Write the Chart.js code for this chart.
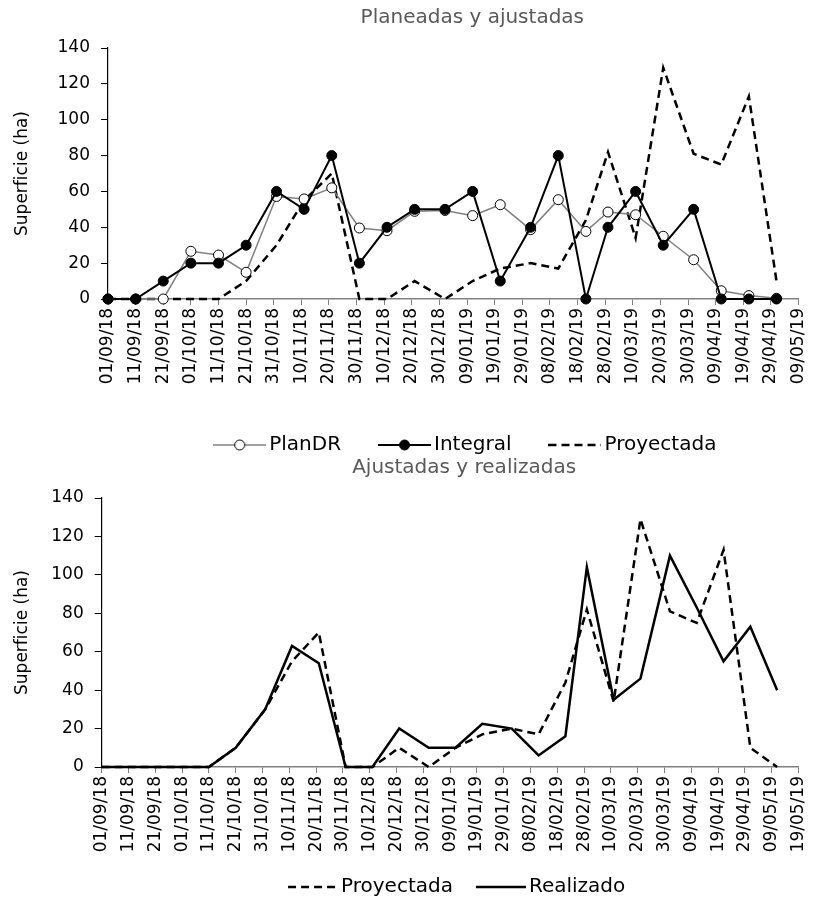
<!DOCTYPE html>
<html lang="es">
<head>
<meta charset="UTF-8">
<title>Superficie planeada, ajustada y realizada</title>
<script src="https://cdn.jsdelivr.net/npm/chart.js"></script>
<style>
    html, body { margin: 0; padding: 0; background: #fff; overflow: hidden; }
    .panel { position: absolute; left: 0; }
</style>
</head>
<body>
<div class="panel" style="top:0"><canvas id="arriba" width="822" height="465"></canvas></div>
<div class="panel" style="top:450px"><canvas id="abajo" width="822" height="457"></canvas></div>

<script>
// fechas de cada decena (1, 11 y 21 de cada mes)
const fechas = ['2018-09-01', '2018-09-11', '2018-09-21', '2018-10-01', '2018-10-11', '2018-10-21',
    '2018-11-01', '2018-11-11', '2018-11-21', '2018-12-01', '2018-12-11', '2018-12-21',
    '2019-01-01', '2019-01-11', '2019-01-21', '2019-02-01', '2019-02-11', '2019-02-21',
    '2019-03-01', '2019-03-11', '2019-03-21', '2019-04-01', '2019-04-11', '2019-04-21',
    '2019-05-01', '2019-05-11'];

// Planeadas y ajustadas (ha)
const planDR = [0, 0, 0, 26.6, 24.5, 14.9, 57.2, 55.8, 62, 39.6, 38.1, 48.9, 49.4,
    46.5, 52.6, 38.7, 55.4, 37.7, 48.5, 47, 35, 21.9, 4.6, 1.9, 0.4];
const integral = [0, 0, 10, 20, 20, 30, 60, 50, 80, 20, 40, 50, 50,
    60, 10, 40, 80, 0, 40, 60, 30, 50, 0, 0, 0];
const proyectada = [0, 0, 0, 0, 0, 10, 30, 55, 70, 0, 0, 10, 0,
    10, 17, 20, 17, 44, 82, 34, 129, 81, 75, 113, 10, 0];

// Ajustadas y realizadas (ha)
const realizado = [0, 0, 0, 0, 0, 10, 30, 63, 54, 0, 0, 20, 10,
    10, 22.5, 20, 6, 16, 104, 35, 46, 110, 83, 55, 73, 40];

// ejes: dias desde el 01/09/18, una marca cada 10 dias
const ejeFinArriba = 250;
const ejeFinAbajo = 260;
const pasoDias = 10;
const yMax = 140;
const yPaso = 20;

const origen = Date.UTC(2018, 8, 1);
const DIA = 86400000;

function diaDe(f) {
    const p = f.split('-');
    return Math.round((Date.UTC(+p[0], +p[1] - 1, +p[2]) - origen) / DIA);
}
function etiqueta(v) {
    const d = new Date(origen + v * DIA);
    const dd = String(d.getUTCDate()).padStart(2, '0');
    const mm = String(d.getUTCMonth() + 1).padStart(2, '0');
    const yy = String(d.getUTCFullYear()).slice(2);
    return dd + '/' + mm + '/' + yy;
}
function serie(valores) {
    return valores.map((v, i) => ({ x: diaDe(fechas[i]), y: v }));
}

// muestras de la leyenda: la linea va pegada al lado derecho de la imagen
function muestra(tipo, largo, ancho) {
    const c = document.createElement('canvas');
    c.width = ancho; c.height = 14;
    const g = c.getContext('2d');
    const x0 = ancho - largo;
    g.beginPath();
    if (tipo === 'plan') { g.strokeStyle = '#808080'; g.lineWidth = 1.5; }
    else if (tipo === 'discontinua') { g.strokeStyle = '#000'; g.lineWidth = 2.5; g.setLineDash([8, 5]); }
    else { g.strokeStyle = '#000'; g.lineWidth = tipo === 'integral' ? 2 : 2.5; }
    g.moveTo(x0, 7); g.lineTo(ancho, 7); g.stroke();
    g.setLineDash([]);
    if (tipo === 'plan' || tipo === 'integral') {
        g.beginPath();
        g.arc(x0 + largo / 2, 7, 5, 0, Math.PI * 2);
        g.fillStyle = tipo === 'plan' ? '#fff' : '#000';
        g.fill();
        g.lineWidth = 1; g.strokeStyle = '#000';
        g.stroke();
    }
    return c;
}

// corre titulo y leyenda horizontalmente
const desplazar = {
    id: 'desplazar',
    afterLayout(chart, args, opts) {
        if (chart.titleBlock) { chart.titleBlock.left += opts.titulo; chart.titleBlock.right += opts.titulo; }
        if (chart.legend) { chart.legend.left += opts.leyenda; chart.legend.right += opts.leyenda; }
    }
};

Chart.defaults.font.family = '"DejaVu Sans", sans-serif';
Chart.defaults.color = '#000';

function opciones(cfg) {
    return {
        responsive: false,
        animation: false,
        events: [],
        layout: { padding: { left: 0, right: cfg.derecha, top: 0, bottom: 0 } },
        plugins: {
            title: {
                display: true, text: cfg.titulo, fullSize: false,
                color: '#595959', font: { size: 20, weight: 'normal' },
                padding: { top: 6, bottom: 18 }
            },
            legend: {
                position: 'bottom', fullSize: false,
                labels: {
                    usePointStyle: true,
                    pointStyleWidth: cfg.cajaLeyenda,
                    padding: cfg.sepLeyenda,
                    font: { size: 20 },
                    color: '#000',
                    sort: (a, b) => a.datasetIndex - b.datasetIndex,
                    generateLabels(chart) {
                        const items = Chart.defaults.plugins.legend.labels.generateLabels(chart);
                        items.forEach(it => { it.pointStyle = cfg.muestras[it.datasetIndex]; });
                        return items;
                    }
                }
            },
            tooltip: { enabled: false },
            desplazar: { titulo: cfg.dTitulo, leyenda: cfg.dLeyenda }
        },
        scales: {
            x: {
                type: 'linear', min: 0, max: cfg.fin,
                afterFit(s) { s.height = cfg.altoX; },
                border: { color: '#808080', width: 1.5 },
                grid: { drawOnChartArea: false, tickLength: 6, color: '#808080' },
                ticks: {
                    stepSize: pasoDias, autoSkip: false, minRotation: 90, maxRotation: 90,
                    padding: 3, font: { size: 17 }, color: '#000',
                    callback: v => etiqueta(v)
                }
            },
            y: {
                min: 0, max: yMax,
                afterFit(s) { s.width = cfg.anchoY; },
                border: { color: '#000', width: 1.2 },
                grid: { drawOnChartArea: false, tickLength: 7, color: '#000' },
                ticks: { stepSize: yPaso, padding: 11, font: { size: 17 }, color: '#000' },
                title: {
                    display: true, text: 'Superficie (ha)', color: '#000',
                    font: { size: 17 }, padding: { top: 12, bottom: 0 }
                }
            }
        }
    };
}

new Chart(document.getElementById('arriba'), {
    type: 'line',
    data: {
        datasets: [
            {
                label: 'PlanDR', data: serie(planDR), order: 2, clip: false,
                borderColor: '#808080', borderWidth: 1.5,
                pointRadius: 5, pointBackgroundColor: '#fff', pointBorderColor: '#000', pointBorderWidth: 1
            },
            {
                label: 'Integral', data: serie(integral), order: 1, clip: false,
                borderColor: '#000', borderWidth: 2,
                pointRadius: 5, pointBackgroundColor: '#000', pointBorderColor: '#000', pointBorderWidth: 1
            },
            {
                label: 'Proyectada', data: serie(proyectada.slice(0, 25)), order: 3, clip: false,
                borderColor: '#000', borderWidth: 2.5, borderDash: [8, 5], pointRadius: 0
            }
        ]
    },
    options: opciones({
        titulo: 'Planeadas y ajustadas', fin: ejeFinArriba, derecha: 11,
        anchoY: 108, altoX: 92, cajaLeyenda: 39, sepLeyenda: 44, dTitulo: 19, dLeyenda: 15,
        muestras: [muestra('plan', 53, 53), muestra('integral', 53, 53), muestra('discontinua', 53, 53)]
    }),
    plugins: [desplazar]
});

new Chart(document.getElementById('abajo'), {
    type: 'line',
    data: {
        datasets: [
            {
                label: 'Proyectada', data: serie(proyectada), clip: false,
                borderColor: '#000', borderWidth: 2.5, borderDash: [8, 5], pointRadius: 0
            },
            {
                label: 'Realizado', data: serie(realizado), clip: false,
                borderColor: '#000', borderWidth: 2.5, pointRadius: 0
            }
        ]
    },
    options: opciones({
        titulo: 'Ajustadas y realizadas', fin: ejeFinAbajo, derecha: 22.7,
        anchoY: 101.7, altoX: 88, cajaLeyenda: 44, sepLeyenda: 22, dTitulo: 14, dLeyenda: 6,
        muestras: [muestra('discontinua', 50, 58), muestra('solida', 50, 58)]
    }),
    plugins: [desplazar]
});
</script>
</body>
</html>
